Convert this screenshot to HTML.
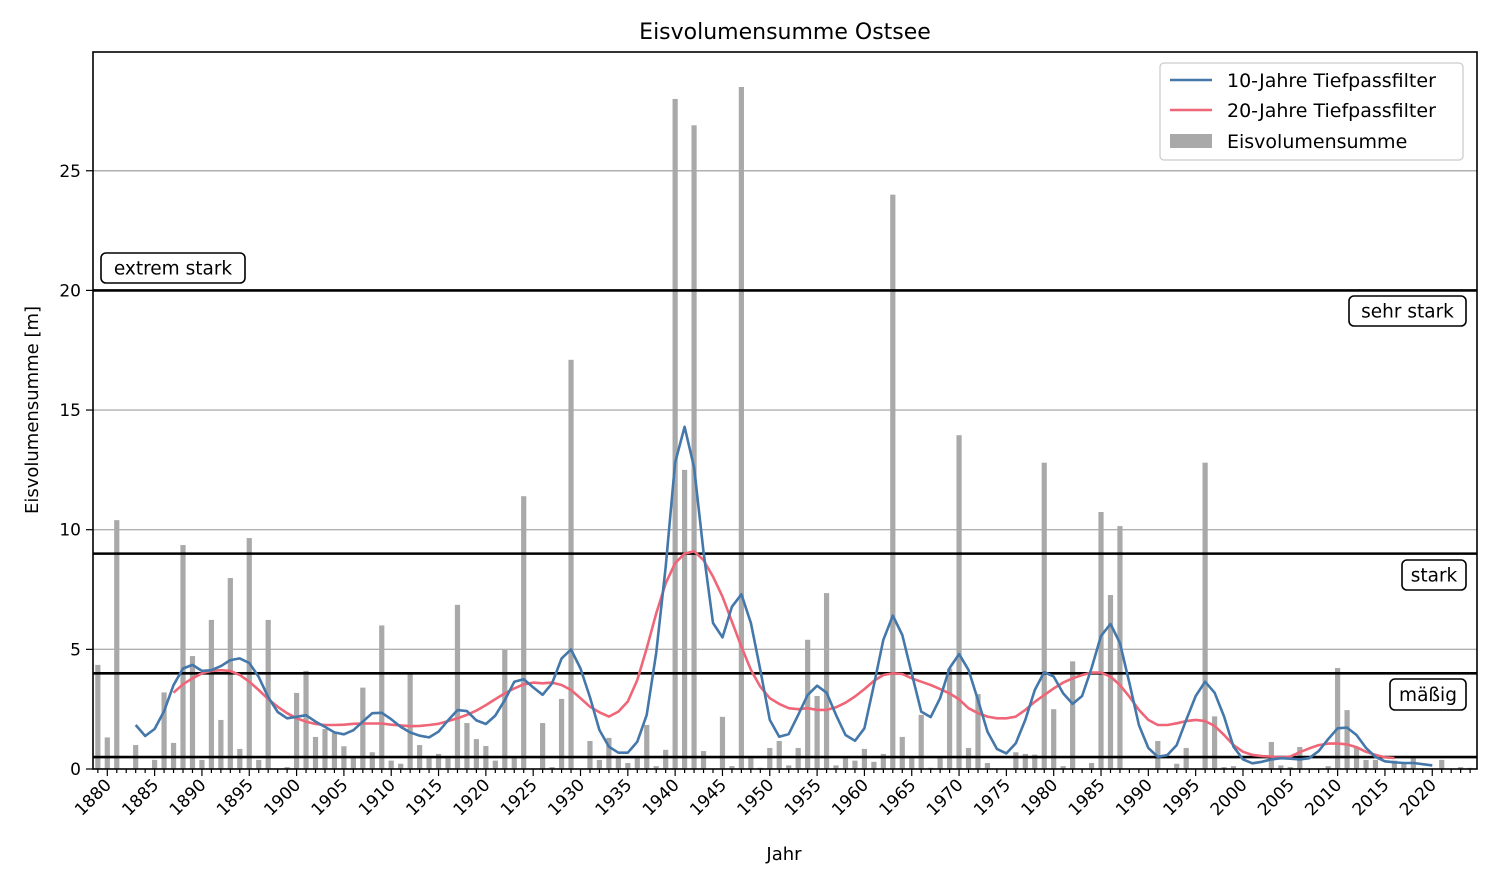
<!DOCTYPE html>
<html><head><meta charset="utf-8"><style>
html,body{margin:0;padding:0;background:#fff}
svg{display:block;font-family:"DejaVu Sans","Liberation Sans",sans-serif}
</style></head><body>
<svg id="chart" width="1497" height="888" xmlns="http://www.w3.org/2000/svg">
<text x="785" y="39" font-size="22" text-anchor="middle">Eisvolumensumme Ostsee</text>
<text x="784" y="860" font-size="18" text-anchor="middle">Jahr</text>
<text transform="translate(38,410) rotate(-90)" font-size="18" text-anchor="middle">Eisvolumensumme [m]</text>
<g id="grid"></g><g id="bars"></g><g id="thresholds"></g><g id="lines"></g><g id="axes"></g><g id="labels"></g><g id="legend"></g>
</svg>
<script>
const barYears=[];for(let y=1879;y<=2024;y++)barYears.push(y);
const barValues=[4.35,1.32,10.4,0,1.0,0,0.38,3.2,1.09,9.36,4.72,0.38,6.23,2.05,7.98,0.84,9.65,0.38,6.23,0,0.08,3.18,4.1,1.34,1.67,1.5,0.95,0.5,3.4,0.7,6.0,0.35,0.22,4.0,1.0,0.45,0.63,0.45,6.86,1.92,1.25,0.96,0.35,5.0,0.5,11.4,0,1.92,0.08,2.93,17.1,0,1.17,0.38,1.3,0.45,0.25,0.45,1.84,0.12,0.8,28.0,12.5,26.9,0.75,0,2.18,0.12,28.5,0.45,0.05,0.88,1.17,0.15,0.88,5.4,3.05,7.35,0.15,0.5,0.35,0.84,0.3,0.63,24.0,1.34,0.53,2.26,0.05,0.45,4.2,13.95,0.88,3.13,0.25,0,0,0.7,0.63,0.6,12.8,2.5,0.12,4.5,0,0.25,10.74,7.27,10.15,0,0,0,1.17,0,0.22,0.88,0,12.8,2.2,0.08,0.12,0,0,0,1.13,0.15,0.08,0.92,0,0,0.12,4.22,2.46,0.92,0.38,0.38,0,0.35,0.22,0.5,0,0,0.38,0,0.08,0.05];
const lp10Start=1883;
const lp10Values=[1.84,1.38,1.67,2.42,3.5,4.2,4.35,4.1,4.13,4.3,4.55,4.62,4.43,3.85,3.0,2.38,2.12,2.18,2.25,1.98,1.76,1.53,1.45,1.62,1.98,2.33,2.35,2.08,1.76,1.53,1.39,1.32,1.56,2.03,2.46,2.42,2.03,1.88,2.23,2.88,3.65,3.75,3.41,3.1,3.58,4.62,5.0,4.2,2.99,1.63,0.93,0.68,0.68,1.14,2.26,4.85,8.45,12.8,14.3,12.6,9.08,6.1,5.5,6.78,7.3,6.1,4.14,2.05,1.35,1.46,2.26,3.09,3.48,3.19,2.26,1.42,1.18,1.7,3.51,5.39,6.41,5.6,4.0,2.4,2.17,2.96,4.22,4.8,4.14,2.88,1.56,0.84,0.65,1.08,2.05,3.3,4.05,3.86,3.16,2.72,3.05,4.22,5.56,6.06,5.27,3.59,1.84,0.88,0.51,0.58,1.0,2.05,3.05,3.65,3.19,2.19,0.93,0.4,0.24,0.3,0.4,0.45,0.43,0.4,0.45,0.75,1.25,1.7,1.73,1.42,0.88,0.5,0.32,0.28,0.25,0.25,0.2,0.15];
const lp20Start=1887;
const lp20Values=[3.19,3.54,3.79,4.0,4.1,4.13,4.1,3.93,3.65,3.3,2.92,2.6,2.33,2.12,1.98,1.88,1.84,1.84,1.85,1.89,1.9,1.9,1.9,1.85,1.82,1.79,1.8,1.84,1.89,2.0,2.12,2.26,2.44,2.67,2.92,3.16,3.37,3.54,3.61,3.58,3.61,3.51,3.3,2.96,2.6,2.37,2.19,2.4,2.82,3.72,5.04,6.5,7.76,8.6,9.0,9.1,8.73,8.04,7.2,6.16,5.11,4.14,3.44,2.96,2.72,2.54,2.5,2.54,2.47,2.47,2.58,2.77,3.03,3.34,3.68,3.93,4.0,3.97,3.79,3.65,3.51,3.34,3.16,2.91,2.54,2.33,2.19,2.12,2.12,2.19,2.47,2.81,3.09,3.37,3.61,3.79,3.93,4.03,4.03,3.86,3.51,3.02,2.47,2.05,1.84,1.84,1.91,2.0,2.05,2.0,1.8,1.42,1.0,0.72,0.59,0.54,0.52,0.49,0.52,0.7,0.86,1.0,1.06,1.07,1.03,0.91,0.72,0.59,0.49,0.46];
const yTicks=[0,5,10,15,20,25];
const thresholds=[20,9,4,0.5];
const xTickYears=[1880,1885,1890,1895,1900,1905,1910,1915,1920,1925,1930,1935,1940,1945,1950,1955,1960,1965,1970,1975,1980,1985,1990,1995,2000,2005,2010,2015,2020];

const NS='http://www.w3.org/2000/svg';
const L=93,R=1477,T=52,B=769;
const xs=y=>107.3+(y-1880)*9.464;
const ys=v=>B-v*23.93;
function mk(tag,attrs,parent,txt){const e=document.createElementNS(NS,tag);for(const k in attrs)e.setAttribute(k,attrs[k]);if(txt!==undefined)e.textContent=txt;document.getElementById(parent).appendChild(e);return e;}

yTicks.forEach(v=>{if(v===0)return;const g=mk('line',{x1:L,x2:R,y1:ys(v),y2:ys(v),stroke:'#b0b0b0','stroke-width':1.4},'grid');

});

barYears.forEach((yr,i)=>{const v=barValues[i];if(!v)return;const r=mk('rect',{x:xs(yr)-2.6,y:ys(v),width:5.2,height:B-ys(v),fill:'#a9a9a9'},'bars');

});

thresholds.forEach(v=>{const l=mk('line',{x1:L,x2:R,y1:ys(v),y2:ys(v),stroke:'#000','stroke-width':2.6},'thresholds');

});

function path(start,vals,color,name){let d='';vals.forEach((v,i)=>{d+=(i?'L':'M')+xs(start+i).toFixed(1)+','+ys(v).toFixed(1);});
const p=mk('path',{d:d,fill:'none',stroke:color,'stroke-width':2.6,'stroke-linejoin':'round'},'lines');

}
path(lp20Start,lp20Values,'#ee6677','lowpass-20y-line');
path(lp10Start,lp10Values,'#4477aa','lowpass-10y-line');

const frame=mk('rect',{x:L,y:T,width:R-L,height:B-T,fill:'none',stroke:'#000','stroke-width':1.6},'axes');


yTicks.forEach(v=>{mk('line',{x1:L-7,x2:L,y1:ys(v),y2:ys(v),stroke:'#000','stroke-width':1.2},'axes');
const t=mk('text',{x:L-12,y:ys(v)+6,'font-size':17,'text-anchor':'end'},'labels',String(v));

});
barYears.forEach(yr=>{const major=yr%5===0;mk('line',{x1:xs(yr),x2:xs(yr),y1:B,y2:B+(major?7:4),stroke:'#000','stroke-width':1.2},'axes');});
xTickYears.forEach(yr=>{const x=xs(yr);const t=mk('text',{x:x+5,y:B+17,'font-size':17,'text-anchor':'end',transform:'rotate(-45 '+(x+5)+' '+(B+17)+')'},'labels',String(yr));

});

function box(x,y,w,h,txt,name){const g=mk('g',{},'labels');
const r=document.createElementNS(NS,'rect');[['x',x],['y',y],['width',w],['height',h],['rx',5],['fill','#fff'],['stroke','#000'],['stroke-width',1.6]].forEach(a=>r.setAttribute(a[0],a[1]));g.appendChild(r);
const t=document.createElementNS(NS,'text');t.setAttribute('x',x+w/2);t.setAttribute('y',y+h/2+6.5);t.setAttribute('font-size',18.5);t.setAttribute('text-anchor','middle');t.textContent=txt;g.appendChild(t);}
box(101,253,144,30,'extrem stark','label-extrem-stark');
box(1349,296,117,30,'sehr stark','label-sehr-stark');
box(1402,560,64,30,'stark','label-stark');
box(1390,679,76,31,'mäßig','label-maessig');

const lb=mk('rect',{x:1160,y:63,width:303,height:97,rx:4,fill:'#fff',stroke:'#ccc','stroke-width':1.3},'legend');


[['10-Jahre Tiefpassfilter','#4477aa',80,'line'],['20-Jahre Tiefpassfilter','#ee6677',110,'line'],['Eisvolumensumme','#a9a9a9',141,'patch']].forEach((e,i)=>{
if(e[3]==='line')mk('line',{x1:1170,x2:1212,y1:e[2],y2:e[2],stroke:e[1],'stroke-width':2.6},'legend');
else mk('rect',{x:1170,y:e[2]-7,width:42,height:14,fill:e[1]},'legend');
const t=mk('text',{x:1227,y:e[2]+7,'font-size':19},'legend',e[0]);

});
</script>
</body></html>
